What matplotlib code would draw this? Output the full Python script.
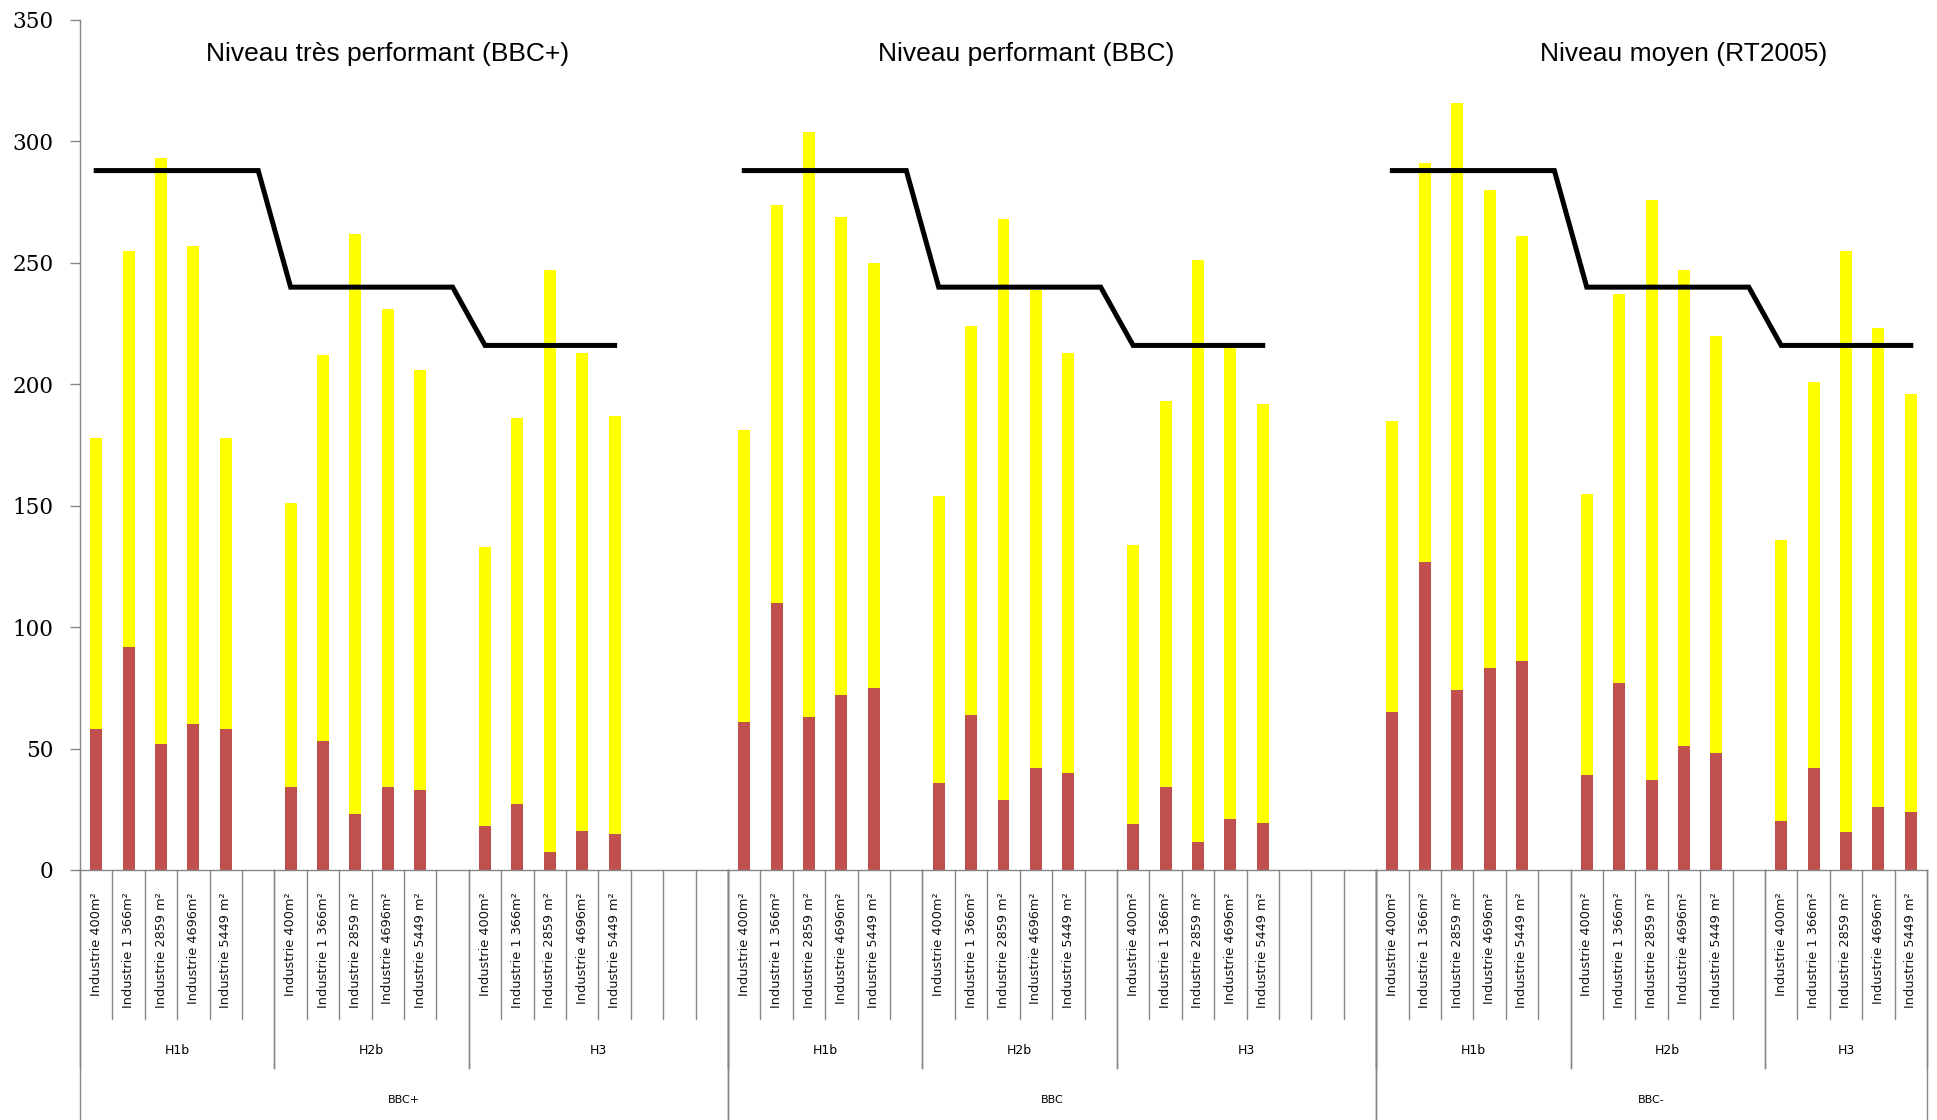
import numpy as np
import matplotlib
matplotlib.use("Agg")
import matplotlib.pyplot as plt

# ---------------- data ----------------
sizes = ["Industrie 400m²", "Industrie 1 366m²", "Industrie 2859 m²",
         "Industrie 4696m²", "Industrie 5449 m²"]
zones = ["H1b", "H2b", "H3"]
levels = ["BBC+", "BBC", "BBC-"]
titles = ["Niveau très performant (BBC+)", "Niveau performant (BBC)",
          "Niveau moyen (RT2005)"]
thresholds = [288, 240, 216]          # black reference line per zone

# red (lower) segment, per level -> per zone -> per building size
red_bbc_plus = [[58, 92, 52, 60, 58], [34, 53, 23, 34, 33], [18, 27, 7.5, 16, 15]]
red_bbc = [[61, 110, 63, 72, 75], [36, 64, 29, 42, 40], [19, 34, 11.5, 21, 19.5]]
red_bbc_minus = [[65, 127, 74, 83, 86], [39, 77, 37, 51, 48], [20, 42, 15.5, 26, 24]]

# yellow (upper) segment
yel_bbc_plus = [[120, 163, 241, 197, 120], [117, 159, 239, 197, 173], [115, 159, 239.5, 197, 172]]
yel_bbc = [[120, 164, 241, 197, 175], [118, 160, 239, 197, 173], [115, 159, 239.5, 196, 172.5]]
yel_bbc_minus = [[120, 164, 242, 197, 175], [116, 160, 239, 196, 172], [116, 159, 239.5, 197, 172]]

red_all = [red_bbc_plus, red_bbc, red_bbc_minus]
yel_all = [yel_bbc_plus, yel_bbc, yel_bbc_minus]

# empty category slots after each zone (layout of the source table)
empty_after = [[1, 1, 3], [1, 1, 3], [1, 1, 0]]

RED = "#C0504D"
YELLOW = "#FFFF00"
GRAY = "#868686"

fig = plt.figure(figsize=(19.37, 11.2), dpi=100)
ax = fig.add_axes([80 / 1937, 250 / 1120, 1847 / 1937, 850 / 1120])

H = 850.0  # axes height in px
def fy(px):
    return -px / H

trans = ax.get_xaxis_transform()
slot = 0
level_bounds = []
zone_bounds = []
bar_w = 0.37
for li, lev in enumerate(levels):
    lstart = slot
    line_x, line_y = [], []
    for zi, zn in enumerate(zones):
        zstart = slot
        reds = red_all[li][zi]
        yels = yel_all[li][zi]
        xs = np.arange(len(sizes)) + slot + 0.5
        ax.bar(xs, reds, width=bar_w, color=RED, zorder=2)
        ax.bar(xs, yels, bottom=reds, width=bar_w, color=YELLOW, zorder=2)
        for x, lab in zip(xs, sizes):
            ax.text(x, fy(22), lab, transform=trans, rotation=90, ha="center",
                    va="top", fontsize=9.3, family="DejaVu Sans", color="#111111")
        nline = len(sizes) + (1 if zi < 2 else 0)
        for k in range(nline):
            line_x.append(slot + k + 0.5)
            line_y.append(thresholds[zi])
        slot += len(sizes) + empty_after[li][zi]
        zend = slot
        zone_bounds.append((zstart, zend))
        ax.text((zstart + zend) / 2, fy(181), zn, transform=trans, ha="center",
                va="center", fontsize=9, family="DejaVu Sans")
        for b in range(zstart + 1, zend):
            ax.plot([b, b], [0, fy(149)], transform=trans, color=GRAY, lw=1,
                    clip_on=False, zorder=1)
    lend = slot
    level_bounds.append((lstart, lend))
    ax.plot(line_x, line_y, color="black", lw=3.6, zorder=3,
            solid_joinstyle="miter")
    ax.text((lstart + lend) / 2, fy(230), lev, transform=trans, ha="center",
            va="center", fontsize=8, family="DejaVu Sans")

# zone separators
for (zs, ze) in zone_bounds:
    for b in (zs, ze):
        ax.plot([b, b], [0, fy(198)], transform=trans, color=GRAY, lw=1,
                clip_on=False, zorder=1)
# level separators
for (ls, le) in level_bounds:
    for b in (ls, le):
        ax.plot([b, b], [0, fy(250)], transform=trans, color=GRAY, lw=1,
                clip_on=False, zorder=1)

total_slots = slot
ax.set_xlim(0, total_slots)
ax.set_ylim(0, 350)
ax.set_xticks([])
ax.set_yticks(np.arange(0, 351, 50))
ax.tick_params(axis="y", direction="out", length=7, width=1, color=GRAY,
               pad=12, labelsize=15.5)
for t in ax.get_yticklabels():
    t.set_family("DejaVu Serif")
for s in ("top", "right"):
    ax.spines[s].set_visible(False)
for s in ("left", "bottom"):
    ax.spines[s].set_color(GRAY)
    ax.spines[s].set_linewidth(1)

# panel titles
title_x = [9.5, 29.2, 49.5]
for tx, tt in zip(title_x, titles):
    ax.text(tx, 336, tt, ha="center", va="center", fontsize=19,
            family="Liberation Sans")

fig.savefig("out.png", dpi=100)
